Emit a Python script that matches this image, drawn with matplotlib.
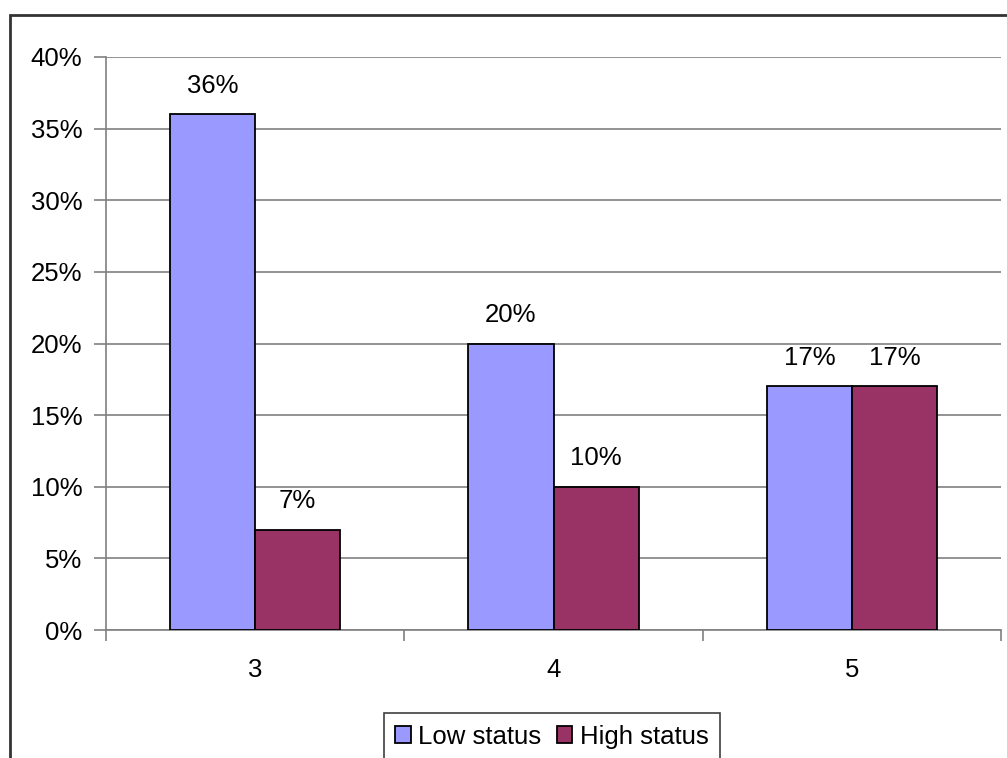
import matplotlib
matplotlib.use("Agg")
import matplotlib.pyplot as plt
from matplotlib.patches import Rectangle
import numpy as np

categories = ["3", "4", "5"]
low_status = [36, 20, 17]
high_status = [7, 10, 17]
series_names = ["Low status", "High status"]
y_ticks = [0, 5, 10, 15, 20, 25, 30, 35, 40]

plt.rcParams['font.family'] = ['Liberation Sans', 'DejaVu Sans']
FS = 18.5

W, H = 1007, 758
fig = plt.figure(figsize=(W / 100, H / 100), dpi=100)
ax = fig.add_axes([106 / W, 1 - 630 / H, (1001 - 106) / W, (630 - 57) / H])

x = np.arange(len(categories))
bw = 0.285
b1 = ax.bar(x - bw / 2, low_status, bw, color="#9999FF", edgecolor="black", linewidth=1.3, zorder=3, label=series_names[0])
b2 = ax.bar(x + bw / 2, high_status, bw, color="#993366", edgecolor="black", linewidth=1.3, zorder=3, label=series_names[1])

for bars, vals in ((b1, low_status), (b2, high_status)):
    for r, v in zip(bars, vals):
        ax.annotate(f"{v}%", (r.get_x() + r.get_width() / 2, v), xytext=(0, 12),
                    textcoords="offset points", ha="center", va="bottom", fontsize=FS)

ax.set_xlim(-0.5, len(categories) - 0.5)
ax.set_ylim(0, 40)
ax.set_yticks(y_ticks)
ax.set_yticklabels([f"{t}%" for t in y_ticks], fontsize=FS)
ax.set_xticks(x)
ax.set_xticklabels(categories, fontsize=FS)
ax.set_xticks(np.arange(-0.5, len(categories), 1.0), minor=True)
ax.tick_params(axis="x", which="major", length=0, pad=20)
ax.tick_params(axis="x", which="minor", length=8, color="#808080", width=1.2)
ax.tick_params(axis="y", length=9, color="#808080", width=1.2, pad=8)
ax.yaxis.grid(True, color="#808080", linewidth=1.2, zorder=0)
for s in ("top", "right"):
    ax.spines[s].set_visible(False)
for s in ("left", "bottom"):
    ax.spines[s].set_color("#808080")
    ax.spines[s].set_linewidth(1.2)

fig.patches.append(Rectangle((10 / W, -0.05), 1.1, 1 - 15 / H + 0.05, transform=fig.transFigure,
                             fill=False, edgecolor="#333333", linewidth=2, zorder=0))

leg = fig.legend(loc="upper center", bbox_to_anchor=(552 / W, 1 - 713 / H), ncol=2,
                 fontsize=FS, handlelength=0.6, handleheight=0.6, handletextpad=0.3,
                 columnspacing=0.6, borderpad=0.45, borderaxespad=0, fancybox=False, framealpha=1,
                 edgecolor="#404040")
leg.get_frame().set_linewidth(1.2)

fig.savefig("out.png", dpi=100)
